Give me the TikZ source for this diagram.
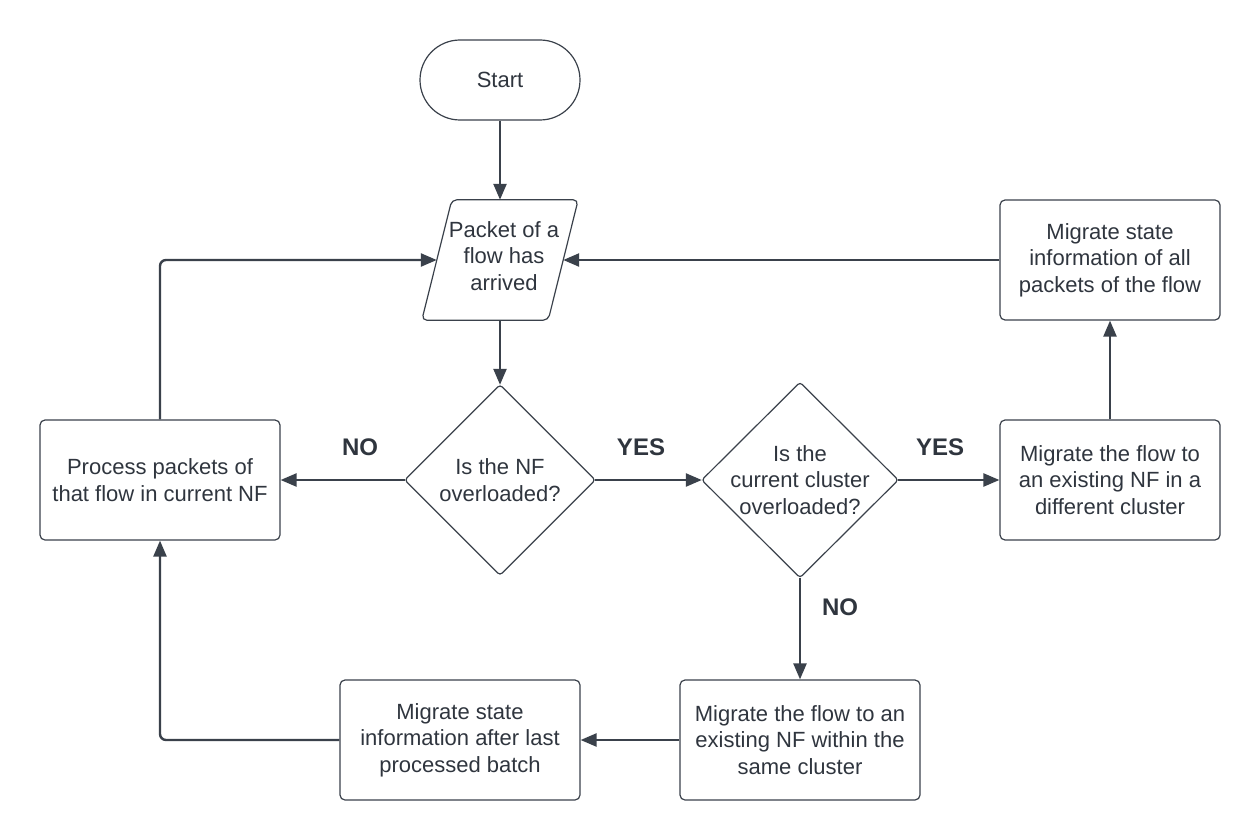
\documentclass[tikz,border=0pt]{standalone}
\usepackage{fontspec}
\setmainfont{Liberation Sans}
\usetikzlibrary{arrows.meta,calc}
\definecolor{ink}{RGB}{58,65,75}
\definecolor{txt}{RGB}{47,53,62}

\begin{document}
\begin{tikzpicture}[x=1pt,y=-1pt,
  font=\fontsize{22}{26.5}\selectfont, text=txt,
  box/.style={draw=ink, line width=1.2pt, rounded corners=5pt, align=center,
    inner sep=0pt, minimum width=#1, minimum height=120pt},
  box/.default=240pt,
  plain/.style={align=center, inner sep=0pt, minimum width=#1},
  shapeline/.style={draw=ink, line width=1.2pt},
  flow/.style={draw=ink, line width=2.4pt, rounded corners=6pt,
    -{Triangle[length=16pt,width=13pt]}},
  answer/.style={font=\fontsize{24}{28}\selectfont\bfseries, text=txt}]

\useasboundingbox (0,0) rectangle (1260,840);

% terminal
\node[draw=ink, line width=1.2pt, rounded corners=40pt, minimum width=160pt,
  minimum height=80pt, inner sep=0pt] (start) at (500,80) {Start};

% input/output parallelogram, text set slightly right and up inside it
\node[plain=126pt, minimum height=120pt] (pkt) at (500,260) {};
\node[align=center, inner sep=0pt] (pkttext) at (504,256)
  {Packet of a\\flow has\\arrived};
\draw[shapeline, rounded corners=5pt]
  ($(pkt.north west)+(15,0)$) -- ($(pkt.north east)+(15,0)$) --
  ($(pkt.south east)+(-15,0)$) -- ($(pkt.south west)+(-15,0)$) -- cycle;

% decisions
\node[plain=190pt, minimum height=190pt] (d1) at (500,480)
  {Is the NF\\overloaded?};
\draw[shapeline, rounded corners=3pt]
  (d1.north) -- (d1.east) -- (d1.south) -- (d1.west) -- cycle;

\node[plain=196pt, minimum height=195pt] (d2) at (800,480)
  {Is the\\current cluster\\overloaded?};
\draw[shapeline, rounded corners=3pt]
  (d2.north) -- (d2.east) -- (d2.south) -- (d2.west) -- cycle;

% process boxes
\node[box] (proc) at (160,480) {Process packets of\\that flow in current NF};
\node[box=220pt] (diff) at (1110,480)
  {Migrate the flow to\\an existing NF in a\\different cluster};
\node[box=220pt] (mig) at (1110,260)
  {Migrate state\\information of all\\packets of the flow};
\node[box] (same) at (800,740)
  {Migrate the flow to an\\existing NF within the\\same cluster};
\node[box] (batch) at (460,740)
  {Migrate state\\information after last\\processed batch};

% connectors
\draw[flow] (start.south) -- (pkt.north);
\draw[flow] (pkt.south) -- (d1.north);
\draw[flow] (d1.west) -- (proc.east);
\draw[flow] (d1.east) -- (d2.west);
\draw[flow] (d2.east) -- (diff.west);
\draw[flow] (d2.south) -- (same.north);
\draw[flow] (diff.north) -- (mig.south);
\draw[flow] (mig.west) -- (pkt.east);
\draw[flow] (same.west) -- (batch.east);
\draw[flow] (proc.north) |- (pkt.west);
\draw[flow] (batch.west) -| (proc.south);

% branch labels
\node[answer] (no1) at (360,447) {NO};
\node[answer] (yes1) at (641,447) {YES};
\node[answer] (yes2) at (940,447) {YES};
\node[answer] (no2) at (840,607) {NO};

\end{tikzpicture}
\end{document}
